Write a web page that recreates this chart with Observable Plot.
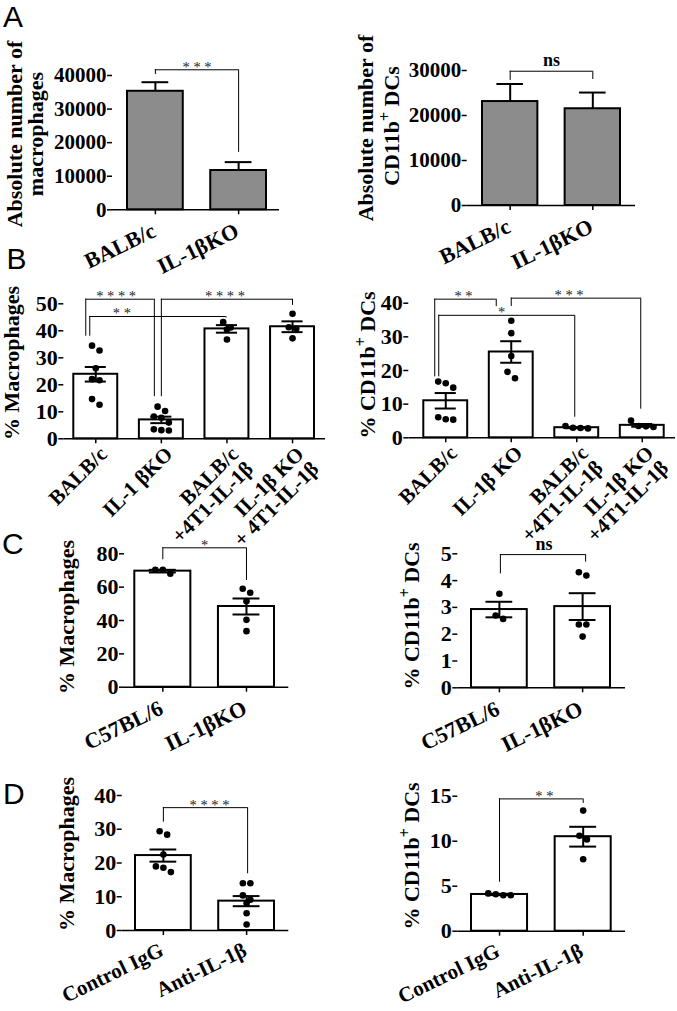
<!DOCTYPE html>
<html><head><meta charset="utf-8">
<script src="https://cdn.jsdelivr.net/npm/d3@7"></script>
<script src="https://cdn.jsdelivr.net/npm/@observablehq/plot@0.6"></script>
<style>
html,body{margin:0;padding:0;background:#fff;}
#fig{position:relative;width:677px;height:1011px;overflow:hidden;background:#fff;}
#fig svg{position:absolute;left:0;top:0;}
.ylab{position:absolute;white-space:nowrap;font:bold 22px/21px "Liberation Serif","Times New Roman",serif;color:#000;transform:translate(-50%,-50%) rotate(-90deg);}
.ylab sup{font-size:0.72em;line-height:0;}
.letter{position:absolute;font:30px/30px "Liberation Sans",Arial,sans-serif;color:#000;}
</style></head><body><div id="fig"></div>
<script>
// ---------- DATA ----------
const groupsA = ["BALB/c", "IL-1βKO"];
const macAbsMean = [35300, 11700];
const macAbsSem = [2700, 2500];
const macAbsBrackets = [{from: 0, to: 1, y: 41700, fromEnd: 40300, toEnd: 17100, label: "***"}];
const dcAbsMean = [23100, 21500];
const dcAbsSem = [3900, 3600];
const dcAbsBrackets = [{from: 0, to: 1, y: 29840, fromEnd: 27800, toEnd: 28000, label: "ns"}];

const groupsB1 = ["BALB/c", "IL-1 βKO", "BALB/c\n+4T1-IL-1β", "IL-1β KO\n+ 4T1-IL-1β"];
const macPctMean = [23.9, 7.0, 40.7, 41.5];
const macPctSem = [2.7, 1.2, 1.4, 2.0];
const macPctDots = [
  [34.5, 32.7, 26.1, 22.1, 21.7, 14.7, 12.6],
  [11.9, 10.3, 8.2, 7.8, 6.0, 3.5, 3.2, 3.1],
  [43.2, 41.2, 40.5, 36.8],
  [46.3, 41.3, 40.8, 37.2]
];
const macPctBrackets = [
  {from: 0, to: 1, y: 51.7, fromEnd: 38.0, toEnd: 15.6, label: "****"},
  {from: 0, to: 2, y: 45.3, fromEnd: 38.0, toEnd: 44.7, label: "**"},
  {from: 1, to: 3, y: 51.7, fromEnd: 15.6, toEnd: 49.4, label: "****"}
];

const groupsB2 = ["BALB/c", "IL-1β KO", "BALB/c\n+4T1-IL-1β", "IL-1β KO\n+4T1-IL-1β"];
const dcPctMean = [11.0, 25.5, 3.0, 3.7];
const dcPctSem = [2.3, 3.2, 0.15, 0.4];
const dcPctDots = [
  [16.7, 16.2, 14.9, 6.1, 5.5, 5.4],
  [34.8, 31.1, 24.3, 19.6, 17.7],
  [3.5, 3.0, 2.9, 2.8],
  [5.1, 3.5, 3.4, 3.2]
];
const dcPctBrackets = [
  {from: 0, to: 1, y: 41.2, fromEnd: 18.1, toEnd: 39.0, label: "**"},
  {from: 1, to: 3, y: 41.5, fromEnd: 39.0, toEnd: 8.5, label: "***"},
  {from: 0, to: 2, y: 36.4, fromEnd: 18.1, toEnd: 6.1, label: "*"}
];

const groupsC = ["C57BL/6", "IL-1βKO"];
const macC57Mean = [69.6, 48.4];
const macC57Sem = [0.8, 4.8];
const macC57Dots = [[70.4, 70.4, 68.0], [59.0, 56.6, 51.6, 40.4, 33.6]];
const macC57Brackets = [{from: 0, to: 1, y: 83.6, fromEnd: 76.4, toEnd: 64, label: "*"}];
const dcC57Mean = [2.92, 3.03];
const dcC57Sem = [0.29, 0.5];
const dcC57Dots = [[3.51, 2.70, 2.57], [4.31, 4.19, 2.36, 2.36, 1.91]];
const dcC57Brackets = [{from: 0, to: 1, y: 4.97, fromEnd: 4.25, toEnd: 4.69, label: "ns"}];

const groupsD = ["Control IgG", "Anti-IL-1β"];
const macAbMean = [22.2, 8.7];
const macAbSem = [1.8, 1.5];
const macAbDots = [[29.4, 28.4, 22.5, 19.0, 18.6, 17.3], [14.0, 14.0, 10.4, 9.1, 8.1, 5.1, 1.8]];
const macAbBrackets = [{from: 0, to: 1, y: 36.4, fromEnd: 32.1, toEnd: 16.8, label: "****"}];
const dcAbMean = [4.08, 10.5];
const dcAbSem = [0.07, 1.1];
const dcAbDots = [[4.2, 4.1, 4.0, 4.0], [13.4, 10.6, 10.2, 8.0]];
const dcAbBrackets = [{from: 0, to: 1, y: 14.7, fromEnd: 5.44, toEnd: 14.2, label: "**"}];

// ---------- LAYOUT / STYLE ----------
const SERIF = "'Liberation Serif','Times New Roman',serif";
const slanted = {xFont: 22, rotate: -26, xdx: -5, xdy: 12};
const steep = {xFont: 21, rotate: -45, xdx: 2, xdy: 6};
const panels = [
  {labels: groupsA, mean: macAbsMean, sem: macAbsSem, dots: null, brackets: macAbsBrackets,
   yMax: 40000, yStep: 10000, frame: [112, 279, 75, 209.3], bars: [127, 266], fill: "#8c8c8c", oneSided: true,
   tickFont: 21, ...slanted, legOff: [[0, 0]], labelDx: [0]},
  {labels: groupsA, mean: dcAbsMean, sem: dcAbsSem, dots: null, brackets: dcAbsBrackets,
   yMax: 30000, yStep: 10000, frame: [466.7, 635, 70, 205], bars: [482, 620], fill: "#8c8c8c", oneSided: true,
   tickFont: 21, ...slanted, legOff: [[0, 0]], labelDx: [0]},
  {labels: groupsB1, mean: macPctMean, sem: macPctSem, dots: macPctDots, brackets: macPctBrackets,
   yMax: 50, yStep: 10, frame: [63.3, 325, 303.3, 438.3], bars: [73.3, 314], fill: "white",
   tickFont: 22, ...steep, legOff: [[-10, -7], [-6, -1], [0, 0]], labelDx: [-4, -36, -2]},
  {labels: groupsB2, mean: dcPctMean, sem: dcPctSem, dots: dcPctDots, brackets: dcPctBrackets,
   yMax: 40, yStep: 10, frame: [408.3, 675, 302.7, 437.3], bars: [423.3, 663.7], fill: "white",
   tickFont: 22, ...steep, legOff: [[-11, -15], [0, -1.5], [-7, -2]], labelDx: [-2, -7, -5]},
  {labels: groupsC, mean: macC57Mean, sem: macC57Sem, dots: macC57Dots, brackets: macC57Brackets,
   yMax: 80, yStep: 20, frame: [124, 288.3, 553.3, 686.7], bars: [134.3, 274], fill: "white",
   tickFont: 22, ...slanted, legOff: [[0, 0]], labelDx: [0]},
  {labels: groupsC, mean: dcC57Mean, sem: dcC57Sem, dots: dcC57Dots, brackets: dcC57Brackets,
   yMax: 5, yStep: 1, frame: [457.3, 625, 553.3, 687.3], bars: [471, 610], fill: "white",
   tickFont: 22, ...slanted, legOff: [[1, 3]], labelDx: [1]},
  {labels: groupsD, mean: macAbMean, sem: macAbSem, dots: macAbDots, brackets: macAbBrackets,
   yMax: 40, yStep: 10, frame: [121.7, 288.3, 795, 930], bars: [135, 274], fill: "white",
   tickFont: 22, ...slanted, xFont: 21, xdy: 11, legOff: [[0, 1]], labelDx: [4]},
  {labels: groupsD, mean: dcAbMean, sem: dcAbSem, dots: dcAbDots, brackets: dcAbBrackets,
   yMax: 15, yStep: 5, frame: [457.3, 625, 795.7, 930.7], bars: [471, 610.7], fill: "white",
   tickFont: 22, ...slanted, xFont: 21, xdy: 11, legOff: [[0, 0]], labelDx: [3]}
];

const yLabels = [
  {html: "Absolute number of", x: 14.3, y: 134},
  {html: "macrophages", x: 35.3, y: 134},
  {html: "Absolute number of", x: 364.6, y: 128},
  {html: "CD11b<sup>+</sup> DCs", x: 390.6, y: 126},
  {html: "% Macrophages", x: 11.4, y: 363},
  {html: "% CD11b<sup>+</sup> DCs", x: 367, y: 365},
  {html: "% Macrophages", x: 66.4, y: 616.5},
  {html: "% CD11b<sup>+</sup> DCs", x: 411, y: 615.8},
  {html: "% Macrophages", x: 66.4, y: 854},
  {html: "% CD11b<sup>+</sup> DCs", x: 411, y: 856}
];
const letters = [
  {t: "A", x: 3, y: 1.8}, {t: "B", x: 6.5, y: 244.2}, {t: "C", x: 2, y: 529.2}, {t: "D", x: 3, y: 779.2}
];

// GraphPad-like scatter: dots within one dot diameter of a row's first dot share that row
function swarm(vals, pxPerUnit) {
  const order = vals.map((v, k) => k).sort((a, b) => vals[b] - vals[a]);
  const off = new Array(vals.length).fill(0);
  let cluster = [order[0]];
  const flush = () => { const k = cluster.length; cluster.forEach((j, m) => off[j] = (m - (k - 1) / 2) * 7.5); };
  for (let t = 1; t < order.length; t++) {
    const cur = order[t];
    if ((vals[cluster[0]] - vals[cur]) * pxPerUnit < 7) cluster.push(cur);
    else { flush(); cluster = [cur]; }
  }
  flush();
  return off;
}

function drawPanel(p) {
  const n = p.labels.length;
  const [xl, xr, yt, yb] = p.frame;
  const [bs, be] = p.bars;
  const pi = 0.33;
  const s = (be - bs) / (n - pi);
  const half = (1 - pi) / 2;
  const c0 = bs + s * half, cN = be - s * half;
  const xDomain = [-(c0 - xl) / s, (n - 1) + (xr - cN) / s];
  const pxPerUnit = (yb - yt) / p.yMax;
  const idx = d3.range(n);
  const bars = idx.map(i => ({i, mean: p.mean[i], sem: p.sem[i]}));
  const errs = bars.map(d => ({i: d.i, lo: p.oneSided ? d.mean : d.mean - d.sem, hi: d.mean + d.sem}));
  const capHalf = half * 0.48;
  const caps = p.oneSided ? errs.map(d => ({i: d.i, v: d.hi})) : errs.flatMap(d => [{i: d.i, v: d.lo}, {i: d.i, v: d.hi}]);
  const dots = [];
  if (p.dots) p.dots.forEach((vals, i) => {
    const off = swarm(vals, pxPerUnit);
    vals.forEach((v, k) => dots.push({x: i + off[k] / s, v}));
  });
  const br = p.brackets.map((b, k) => {
    const xa = b.from + p.legOff[k][0] / s, xb = b.to + p.legOff[k][1] / s;
    return {...b, xa, xb, xm: (xa + xb) / 2 + p.labelDx[k] / s};
  });
  const stars = br.filter(b => b.label !== "ns");
  const ns = br.filter(b => b.label === "ns");
  const ticks = d3.range(0, p.yMax + p.yStep / 2, p.yStep);

  return Plot.plot({
    width: 677, height: 1011,
    marginLeft: xl, marginRight: 677 - xr, marginTop: yt, marginBottom: 1011 - yb,
    style: `background:transparent;font-family:${SERIF};font-weight:bold;color:#000;`,
    x: {type: "linear", domain: xDomain},
    y: {domain: [0, p.yMax]},
    marks: [
      Plot.rect(bars, {x1: d => d.i - half, x2: d => d.i + half, y1: 0, y2: "mean", fill: p.fill, stroke: "black", strokeWidth: 2}),
      Plot.ruleX(errs, {x: "i", y1: "lo", y2: "hi", stroke: "black", strokeWidth: 2}),
      Plot.ruleY(caps, {y: "v", x1: d => d.i - capHalf, x2: d => d.i + capHalf, stroke: "black", strokeWidth: 2}),
      Plot.dot(dots, {x: "x", y: "v", r: 3.3, fill: "black"}),
      Plot.ruleY(br, {y: "y", x1: "xa", x2: "xb", stroke: "black", strokeWidth: 1}),
      Plot.ruleX(br, {x: "xa", y1: "y", y2: "fromEnd", stroke: "black", strokeWidth: 1}),
      Plot.ruleX(br, {x: "xb", y1: "y", y2: "toEnd", stroke: "black", strokeWidth: 1}),
      Plot.text(stars, {x: "xm", y: "y", text: d => d.label.split("").join(" "), lineAnchor: "bottom", dy: 2,
        fontSize: 14.5, fontWeight: "normal", fill: "#222"}),
      Plot.text(ns, {x: "xm", y: "y", text: "label", lineAnchor: "bottom", dy: -5, fontSize: 18, fontWeight: "bold", fill: "black"}),
      Plot.axisY({ticks, tickSize: 5, tickPadding: 1, tickFormat: d3.format("d"), label: null, line: true,
        fontSize: p.tickFont, strokeWidth: 1.5}),
      Plot.axisX({ticks: idx, tickSize: 5, tickFormat: () => "", label: null, strokeWidth: 1.5}),
      Plot.ruleY([0], {stroke: "black", strokeWidth: 1.5}),
      Plot.text(idx, {x: d => d, text: d => p.labels[d], frameAnchor: "bottom", rotate: p.rotate,
        textAnchor: "end", lineAnchor: "top", dx: p.xdx, dy: p.xdy, fontSize: p.xFont, fontWeight: "bold", fill: "black"})
    ]
  });
}

const fig = document.getElementById("fig");
panels.forEach(p => fig.appendChild(drawPanel(p)));
yLabels.forEach(l => {
  const d = document.createElement("div");
  d.className = "ylab"; d.innerHTML = l.html;
  d.style.left = l.x + "px"; d.style.top = l.y + "px";
  fig.appendChild(d);
});
letters.forEach(l => {
  const d = document.createElement("div");
  d.className = "letter"; d.textContent = l.t;
  d.style.left = l.x + "px"; d.style.top = l.y + "px";
  fig.appendChild(d);
});
</script></body></html>
